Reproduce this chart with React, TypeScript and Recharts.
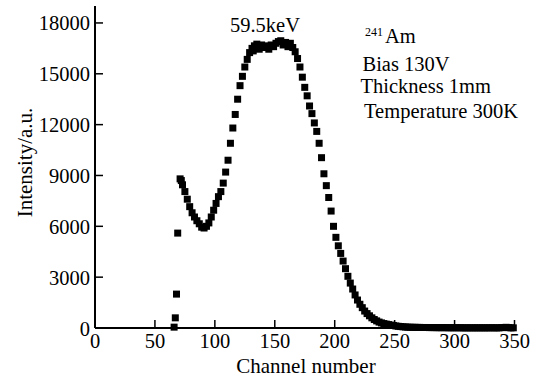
// Am-241 spectrum: square-marker scatter on a serif, inward-tick frame
import { ScatterChart, Scatter, XAxis, YAxis } from 'recharts';

const FONT = 'Liberation Serif, Times New Roman, serif';

const xTicks = [0, 50, 100, 150, 200, 250, 300, 350];
const yTicks = [0, 3000, 6000, 9000, 12000, 15000, 18000];

// threshold edge
const edgeChannels = [66, 67, 68, 69];
const edgeIntensity = [50, 600, 2000, 5600];

// low-energy tail / valley
const valleyChannels = [71, 72, 73, 75, 77, 79, 81, 83, 85, 87, 89, 91, 93, 95, 97, 99, 101, 103, 105, 107];
const valleyIntensity = [8800, 8700, 8450, 8050, 7600, 7160, 6800, 6550, 6330, 6150, 5950, 5900, 6000, 6200, 6550, 6950, 7350, 7750, 8050, 8550];

// rising side of the photopeak
const riseChannels = [109, 111, 113, 115, 117, 119, 121, 123, 125, 127, 129, 131];
const riseIntensity = [9200, 9900, 10900, 11800, 12600, 13500, 14300, 14850, 15400, 15850, 16250, 16500];

// top of the 59.5 keV peak
const topChannels = [132, 133, 135, 137, 139, 141, 143, 145, 147, 149, 151, 153, 155, 157, 159, 161, 163, 165, 167];
const topIntensity = [16350, 16650, 16750, 16450, 16700, 16550, 16650, 16450, 16700, 16600, 16800, 16900, 16950, 16700, 16850, 16600, 16800, 16550, 16300];

// falling side
const fallChannels = [
  169, 171, 173, 175, 177, 179, 181, 183, 185, 187, 189, 191, 193, 195, 197, 199, 201, 203, 205, 207, 209, 211, 213, 215,
  217, 219, 221, 223, 225, 227, 229, 231, 233, 235, 237, 239, 241, 243, 245, 247, 249, 251, 253, 255, 257, 259, 261,
];
const fallIntensity = [
  15900, 15400, 14800, 14200, 13700, 13100, 12650, 12100, 11600, 10900, 10050, 9100, 8400, 7700, 6900, 6000, 5350, 4850,
  4400, 3950, 3500, 3050, 2650, 2300, 1950, 1650, 1400, 1200, 1000, 850, 720, 600, 500, 420, 350, 300, 260, 230, 200, 170,
  150, 120, 100, 85, 70, 60, 50,
];

// flat high-channel tail
const tailChannels = [
  263, 265, 267, 269, 271, 273, 275, 277, 279, 281, 283, 285, 287, 289, 291, 293, 295, 297, 299, 301, 303, 305,
  307, 309, 311, 313, 315, 317, 319, 321, 323, 325, 327, 329, 331, 333, 335, 337, 339, 341, 343, 345, 347, 349,
];
const tailIntensity = [
  45, 40, 40, 35, 35, 30, 30, 30, 25, 25, 25, 20, 20, 20, 20, 20, 15, 15, 15, 15, 15, 15,
  10, 10, 10, 10, 10, 10, 10, 10, 10, 10, 10, 10, 15, 10, 10, 10, 20, 30, 40, 20, 10, 10,
];

const channels = [...edgeChannels, ...valleyChannels, ...riseChannels, ...topChannels, ...fallChannels, ...tailChannels];
const intensity = [...edgeIntensity, ...valleyIntensity, ...riseIntensity, ...topIntensity, ...fallIntensity, ...tailIntensity];

const points = channels.map((c, i) => ({ channel: c, intensity: intensity[i] }));

function SquareDot(props: any) {
  const { cx, cy } = props;
  if (cx == null || cy == null) return null;
  return <rect x={cx - 3.5} y={cy - 3.5} width={7} height={7} fill="#000" />;
}

function YTick({ x, y, payload }: any) {
  return (
    <g>
      <line x1={x} y1={y} x2={x + 8} y2={y} stroke="#000" strokeWidth={1.5} />
      <text x={x - 5} y={y + 7.5} textAnchor="end" fill="#000" style={{ fontFamily: FONT, fontSize: 20.5 }}>
        {payload.value}
      </text>
    </g>
  );
}

function XTick({ x, y, payload }: any) {
  return (
    <g>
      <line x1={x} y1={y} x2={x} y2={y - 8} stroke="#000" strokeWidth={1.5} />
      <text x={x} y={y + 20} textAnchor="middle" fill="#000" style={{ fontFamily: FONT, fontSize: 20.5 }}>
        {payload.value}
      </text>
    </g>
  );
}

const label = { fontFamily: FONT, fontSize: 20.5 };

export default function App() {
  return (
    <div
      style={{ position: 'absolute', left: 0, top: 0, width: 541, height: 378, background: '#fff', fontFamily: FONT }}
    >
      <ScatterChart width={541} height={378} margin={{ top: 6, right: 26.5, bottom: 20, left: 35 }}>
        <XAxis
          type="number"
          dataKey="channel"
          domain={[0, 350]}
          ticks={xTicks}
          interval={0}
          height={30}
          tickSize={0}
          tickMargin={0}
          tickLine={false}
          tick={<XTick />}
          axisLine={{ stroke: '#000', strokeWidth: 2 }}
        />
        <YAxis
          type="number"
          dataKey="intensity"
          domain={[0, 19000]}
          ticks={yTicks}
          interval={0}
          width={60}
          tickSize={0}
          tickMargin={0}
          tickLine={false}
          tick={<YTick />}
          axisLine={{ stroke: '#000', strokeWidth: 2 }}
        />
        <Scatter data={points} fill="#000" shape={SquareDot} isAnimationActive={false} />
      </ScatterChart>

      <svg width={541} height={378} style={{ position: 'absolute', left: 0, top: 0, pointerEvents: 'none' }} fill="#000">
        <text x={265} y={32} textAnchor="middle" style={label}>59.5keV</text>
        <text x={365} y={36} style={{ fontFamily: FONT, fontSize: 12 }}>241</text>
        <text x={385} y={43} style={label}>Am</text>
        <text x={362.5} y={71} style={label}>Bias 130V</text>
        <text x={360.5} y={92.5} style={label}>Thickness 1mm</text>
        <text x={364} y={118} style={label}>Temperature 300K</text>
        <text x={306} y={373} textAnchor="middle" style={{ fontFamily: FONT, fontSize: 21 }}>Channel number</text>
        <text
          x={31.5}
          y={162.5}
          textAnchor="middle"
          transform="rotate(-90 31.5 162.5)"
          style={{ fontFamily: FONT, fontSize: 21 }}
        >
          Intensity/a.u.
        </text>
      </svg>
    </div>
  );
}
